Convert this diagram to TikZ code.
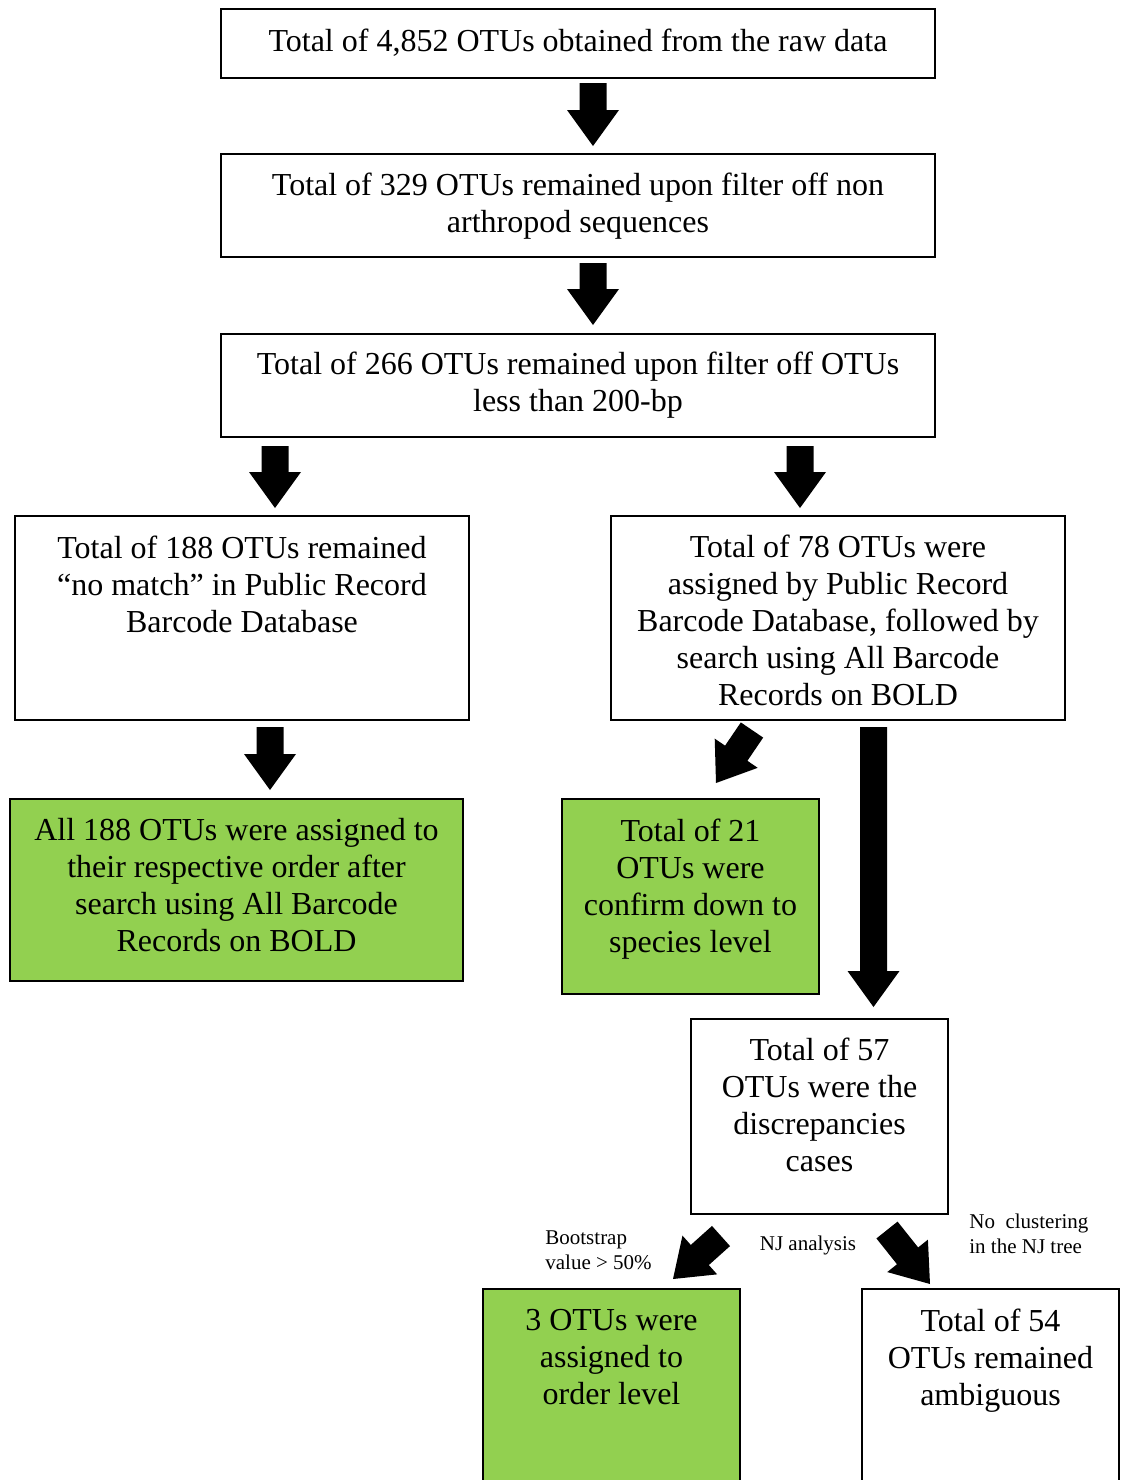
\documentclass[tikz,border=0pt]{standalone}
\usepackage{fontspec}
\setmainfont{Liberation Serif}
\usetikzlibrary{calc,fit}
\definecolor{boxgreen}{HTML}{92D050}
\newcommand\blockarrow[2]{%
  \coordinate (ah) at ($(#2)!18pt!(#1)$);
  \fill[black] ($(#1)!6.75pt!90:(#2)$) -- ($(ah)!6.75pt!90:(#2)$) -- ($(ah)!13pt!90:(#2)$) -- (#2)
    -- ($(ah)!13pt!-90:(#2)$) -- ($(ah)!6.75pt!-90:(#2)$) -- ($(#1)!6.75pt!-90:(#2)$) -- cycle;
}
\begin{document}
\begin{tikzpicture}[x=0.5pt,y=-0.5pt,
  box/.style={draw=black, line width=1.2pt, inner sep=0pt},
  gbox/.style={box, fill=boxgreen},
  txt/.style={inner sep=0pt, align=center, font=\fontsize{16pt}{18.5pt}\selectfont},
  lbl/.style={inner sep=0pt, font=\fontsize{10.5pt}{12.5pt}\selectfont}]
\clip (0,0) rectangle (1122,1480);
\fill[white] (0,0) rectangle (1122,1480);

% boxes
\node[box, fit={(221,9) (935,78)}] (b1) {};
\node[box, fit={(221,154) (935,257)}] (b2) {};
\node[box, fit={(221,334) (935,437)}] (b3) {};
\node[box, fit={(15,516) (469,720)}] (b4) {};
\node[box, fit={(611,516) (1065,720)}] (b5) {};
\node[gbox, fit={(10,799) (463,981)}] (b6) {};
\node[gbox, fit={(562,799) (819,994)}] (b7) {};
\node[box, fit={(691,1019) (948,1214)}] (b8) {};
\node[gbox, fit={(483,1289) (740,1520)}] (b9) {};
\node[box, fit={(862,1289) (1119,1520)}] (b10) {};

% texts
\node[txt] (t1) at (578,43) {Total of 4,852 OTUs obtained from the raw data};
\node[txt] (t2) at (578,206) {Total of 329 OTUs remained upon filter off non\\arthropod sequences};
\node[txt] (t3) at (578,385.5) {Total of 266 OTUs remained upon filter off OTUs\\less than 200-bp};
\node[txt] (t4) at (242,584) {Total of 188 OTUs remained\\“no match” in Public Record\\Barcode Database};
\node[txt] (t5) at (838,620) {Total of 78 OTUs were\\assigned by Public Record\\Barcode Database, followed by\\search using All Barcode\\Records on BOLD};
\node[txt] (t6) at (236.5,885.5) {All 188 OTUs were assigned to\\their respective order after\\search using All Barcode\\Records on BOLD};
\node[txt] (t7) at (690.5,889) {Total of 21\\OTUs were\\confirm down to\\species level};
\node[txt] (t8) at (819.5,1105) {Total of 57\\OTUs were the\\discrepancies\\cases};
\node[txt] (t9) at (611.5,1357) {3 OTUs were\\assigned to\\order level};
\node[txt] (t10) at (990.5,1360.5) {Total of 54\\OTUs remained\\ambiguous};

% labels
\node[lbl, anchor=west, align=left] (l1) at (545,1250) {Bootstrap\\value > 50\%};
\node[lbl] (l2) at (808,1245.5) {NJ analysis};
\node[lbl, anchor=west, align=left] (l3) at (969,1234) {No\enspace clustering\\in the NJ tree};

% arrow end points
\coordinate (a1s) at (593,83);   \coordinate (a1e) at (593,146);
\coordinate (a2s) at (593,263);  \coordinate (a2e) at (593,325);
\coordinate (a3s) at (275,446);  \coordinate (a3e) at (275,508);
\coordinate (a4s) at (800,446);  \coordinate (a4e) at (800,508);
\coordinate (a5s) at (270,727);  \coordinate (a5e) at (270,790);
\coordinate (a6s) at (752,730);  \coordinate (a6e) at (716,783);
\coordinate (a7s) at (873.5,727); \coordinate (a7e) at (873.5,1007);
\coordinate (a8s) at (721,1236); \coordinate (a8e) at (673,1279);
\coordinate (a9s) at (887,1230); \coordinate (a9e) at (930,1284);

\blockarrow{a1s}{a1e}
\blockarrow{a2s}{a2e}
\blockarrow{a3s}{a3e}
\blockarrow{a4s}{a4e}
\blockarrow{a5s}{a5e}
\blockarrow{a6s}{a6e}
\blockarrow{a7s}{a7e}
\blockarrow{a8s}{a8e}
\blockarrow{a9s}{a9e}
\end{tikzpicture}
\end{document}
